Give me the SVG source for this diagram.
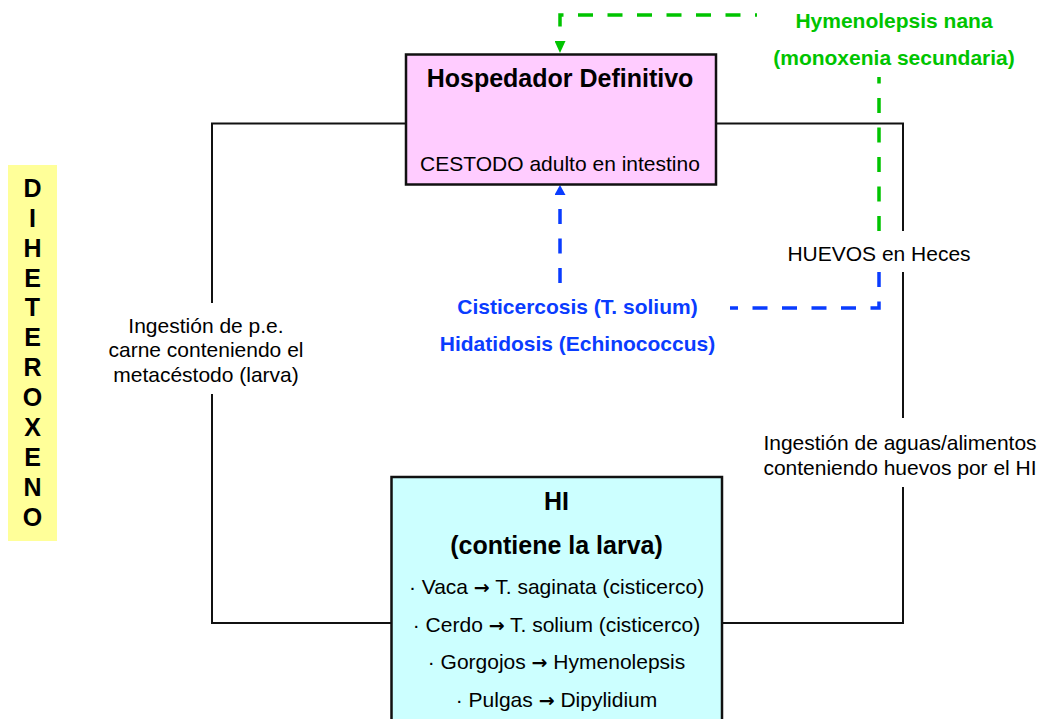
<svg xmlns="http://www.w3.org/2000/svg" width="1045" height="719" viewBox="0 0 1045 719">
<style>
  .t { font-family: "Liberation Sans", Arial, sans-serif; font-size: 21px; fill: #000; }
  .b { font-weight: bold; }
  .title { font-family: "Liberation Sans", Arial, sans-serif; font-size: 25px; font-weight: bold; fill: #000; }
  .grn { fill: #00C400; }
  .blu { fill: #0A3CFF; }
  .mid { text-anchor: middle; }
  .arw { font-family: "DejaVu Sans", sans-serif; font-weight: bold; font-size: 19px; }
  .solid { fill: none; stroke: #111; stroke-width: 2; }
  .gdash { fill: none; stroke: #00C400; stroke-width: 3.5; stroke-dasharray: 15 14.5; }
  .bdash { fill: none; stroke: #0A3CFF; stroke-width: 3.5; stroke-dasharray: 15 14.5; }
  .box { stroke: #111; stroke-width: 2.5; }
</style>
<defs>
  <marker id="arrG" viewBox="0 0 12 11" refX="0" refY="5.5" markerWidth="12" markerHeight="11" markerUnits="userSpaceOnUse" orient="auto">
    <path d="M0,0 L12,5.5 L0,11 z" fill="#00C400"/>
  </marker>
  <marker id="arrB" viewBox="0 0 10 11" refX="0" refY="5.5" markerWidth="10" markerHeight="11" markerUnits="userSpaceOnUse" orient="auto">
    <path d="M0,0 L10,5.5 L0,11 z" fill="#0A3CFF"/>
  </marker>
</defs>
<rect width="1045" height="719" fill="#fff"/>

<g id="connectors">
  <path class="solid" d="M406,123.5 H212 V303"/>
  <path class="solid" d="M212,394 V623 H391"/>
  <path class="solid" d="M716,123.5 H903 V231"/>
  <path class="solid" d="M903,272 V418"/>
  <path class="solid" d="M903,487 V623 H722"/>
  <path class="gdash" d="M757,15 H560 V41" stroke-dashoffset="13" marker-end="url(#arrG)"/>
  <path class="gdash" d="M879,231 V77"/>
  <path class="bdash" d="M879,272 V308 H730"/>
  <path class="bdash" d="M560,283 V195" marker-end="url(#arrB)"/>
</g>

<g id="diheteroxeno">
  <rect x="8" y="165" width="49" height="376" fill="#FFFF99"/>
  <g class="title mid">
    <text x="32.5" y="197">D</text>
    <text x="32.5" y="227">I</text>
    <text x="32.5" y="257">H</text>
    <text x="32.5" y="287">E</text>
    <text x="32.5" y="316">T</text>
    <text x="32.5" y="346">E</text>
    <text x="32.5" y="376">R</text>
    <text x="32.5" y="406">O</text>
    <text x="32.5" y="436">X</text>
    <text x="32.5" y="466">E</text>
    <text x="32.5" y="496">N</text>
    <text x="32.5" y="526">O</text>
  </g>
</g>

<g id="hospedador-definitivo">
  <rect class="box" x="406" y="54.5" width="310" height="130" fill="#FFCCFF"/>
  <text class="title mid" x="560" y="87">Hospedador Definitivo</text>
  <text class="t mid" x="560" y="171">CESTODO adulto en intestino</text>
</g>

<g id="hospedador-intermediario">
  <rect class="box" x="391.5" y="477" width="330.5" height="250" fill="#CCFFFF"/>
  <text class="title mid" x="556.5" y="510">HI</text>
  <text class="title mid" x="556.5" y="554">(contiene la larva)</text>
  <text class="t mid" x="556.5" y="594">· Vaca <tspan class="arw">→</tspan> T. saginata (cisticerco)</text>
  <text class="t mid" x="556.5" y="632">· Cerdo <tspan class="arw">→</tspan> T. solium (cisticerco)</text>
  <text class="t mid" x="556.5" y="669">· Gorgojos <tspan class="arw">→</tspan> Hymenolepsis</text>
  <text class="t mid" x="556.5" y="707">· Pulgas <tspan class="arw">→</tspan> Dipylidium</text>
</g>

<g id="label-ingestion-carne">
  <text class="t mid" x="206" y="332.5">Ingestión de p.e.</text>
  <text class="t mid" x="206" y="357">carne conteniendo el</text>
  <text class="t mid" x="206" y="382">metacéstodo (larva)</text>
</g>

<g id="label-huevos">
  <text class="t mid" x="879" y="261">HUEVOS en Heces</text>
</g>

<g id="label-ingestion-aguas">
  <text class="t mid" x="900" y="449.5">Ingestión de aguas/alimentos</text>
  <text class="t mid" x="900" y="474.5">conteniendo huevos por el HI</text>
</g>

<g id="label-hymenolepsis">
  <text class="t b grn mid" x="894" y="28">Hymenolepsis nana</text>
  <text class="t b grn mid" x="894" y="65">(monoxenia secundaria)</text>
</g>

<g id="label-cisticercosis">
  <text class="t b blu mid" x="577.5" y="314">Cisticercosis (T. solium)</text>
  <text class="t b blu mid" x="577.5" y="351">Hidatidosis (Echinococcus)</text>
</g>
</svg>
